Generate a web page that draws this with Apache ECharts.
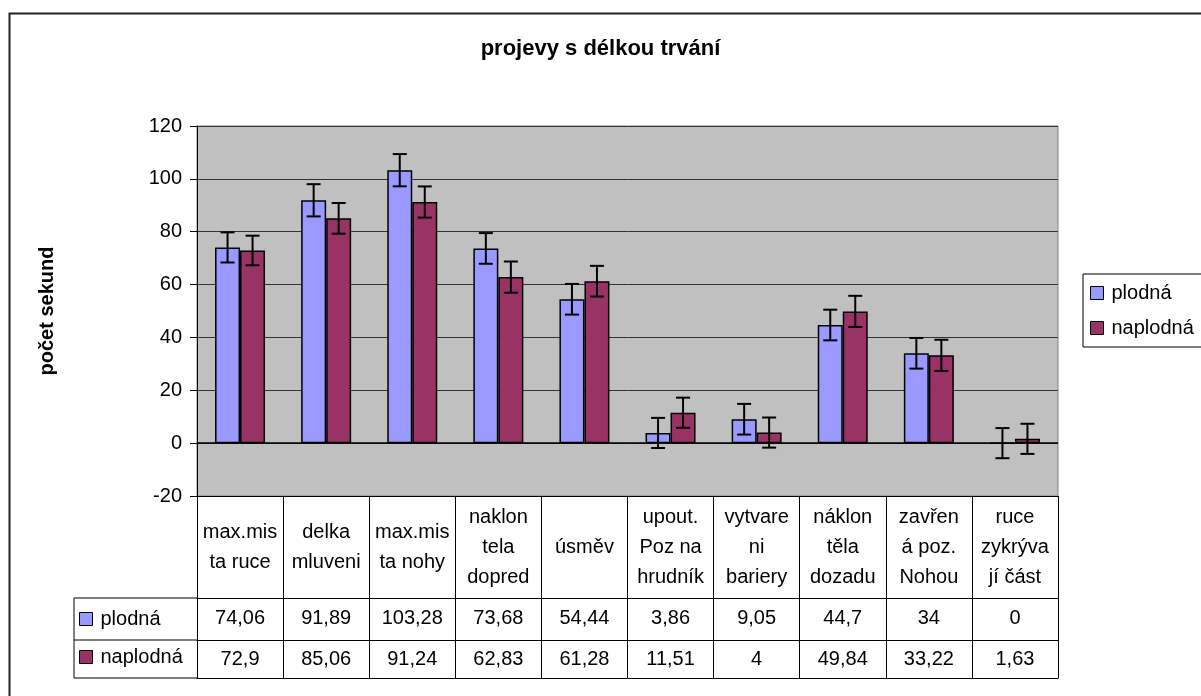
<!DOCTYPE html>
<html>
<head>
<meta charset="utf-8">
<script src="https://cdn.jsdelivr.net/npm/echarts@6/dist/echarts.min.js"></script>
<style>
  html, body { margin: 0; padding: 0; background: #fff; }
  #chart { width: 1201px; height: 696px; }
</style>
</head>
<body>
<div id="chart"></div>
<script>
// kategorie projevů
const categories = [
  'max.mis\nta ruce', 'delka\nmluveni', 'max.mis\nta nohy', 'naklon\ntela\ndopred', 'úsměv',
  'upout.\nPoz na\nhrudník', 'vytvare\nni\nbariery', 'náklon\ntěla\ndozadu', 'zavřen\ná poz.\nNohou', 'ruce\nzykrýva\njí část'
];
const plodna = [74.06, 91.89, 103.28, 73.68, 54.44, 3.86, 9.05, 44.7, 34, 0];
const naplodna = [72.9, 85.06, 91.24, 62.83, 61.28, 11.51, 4, 49.84, 33.22, 1.63];
// chybové úsečky
const errPlodna = [5.7, 6.1, 6.1, 5.8, 5.8, 5.7, 5.8, 5.8, 5.8, 5.7];
const errNaplodna = [5.6, 5.8, 5.9, 5.9, 5.8, 5.7, 5.7, 5.9, 5.9, 5.7];
const yTicks = { min: -20, max: 120, interval: 20 };

const FONT = "'Liberation Sans', Arial, sans-serif";
const fmt = (v) => String(v).replace('.', ',');

let chart = echarts.init(document.getElementById('chart'));

// pozice tabulky pod grafem
const gridLeft = 197, gridRight = 143, gridTop = 126, gridBottom = 200;
const plotBottomY = 696 - gridBottom; // 496
const rowCat = 102, rowVal = 42, rowVal2 = 38;

const errorSeries = (name, values, errs, shift) => ({
  name: name,
  type: 'custom',
  xAxisIndex: 0,
  yAxisIndex: 0,
  z: 5,
  silent: true,
  data: values.map((v, i) => [i, v, errs[i]]),
  renderItem: function (params, api) {
    const v = api.value(1), e = api.value(2);
    const top = api.coord([api.value(0), v + e]);
    const bot = api.coord([api.value(0), v - e]);
    const x = top[0] + shift;
    const style = { stroke: '#000', lineWidth: 2 };
    return {
      type: 'group',
      children: [
        { type: 'line', shape: { x1: x, y1: top[1], x2: x, y2: bot[1] }, style: style },
        { type: 'line', shape: { x1: x - 7, y1: top[1], x2: x + 7, y2: top[1] }, style: style },
        { type: 'line', shape: { x1: x - 7, y1: bot[1], x2: x + 7, y2: bot[1] }, style: style },
      ],
    };
  },
});

const valueAxis = (values, offset, margin) => ({
  type: 'category',
  position: 'bottom',
  offset: offset,
  data: values.map(fmt),
  axisLine: { onZero: false, lineStyle: { color: '#000', width: 1 } },
  axisTick: { show: false },
  axisLabel: {
    show: values.length > 0,
    interval: 0,
    margin: margin,
    verticalAlign: 'middle',
    color: '#000',
    fontSize: 20,
    fontFamily: FONT,
  },
});

let option = {
  animation: false,
  backgroundColor: '#fff',
  title: {
    text: 'projevy s délkou trvání',
    left: 'center',
    top: 38,
    padding: 0,
    textStyle: { fontSize: 22, fontWeight: 'bold', color: '#000', fontFamily: FONT },
  },
  legend: [
    {
      data: ['plodná', 'naplodná'],
      orient: 'vertical',
      left: 1083,
      top: 274,
      padding: [9, 30, 9, 7],
      itemGap: 15,
      itemWidth: 13,
      itemHeight: 13,
      borderColor: '#000',
      borderWidth: 1,
      icon: 'rect',
      itemStyle: { borderColor: '#000', borderWidth: 1 },
      textStyle: { fontSize: 20, color: '#000', fontFamily: FONT, padding: [0, 0, 0, 3] },
    },
    {
      // popisky řádků tabulky
      data: ['plodná', 'naplodná'],
      orient: 'vertical',
      left: 74,
      top: 609,
      padding: [0, 0, 0, 5],
      itemGap: 18,
      itemWidth: 13,
      itemHeight: 13,
      icon: 'rect',
      itemStyle: { borderColor: '#000', borderWidth: 1 },
      textStyle: { fontSize: 20, color: '#000', fontFamily: FONT, padding: [0, 0, 0, 3] },
    },
  ],
  grid: {
    left: gridLeft,
    right: gridRight,
    top: gridTop,
    bottom: gridBottom,
    show: true,
    backgroundColor: '#C0C0C0',
    borderColor: '#808080',
    borderWidth: 1,
  },
  xAxis: [
    {
      type: 'category',
      position: 'bottom',
      data: categories,
      axisLine: { onZero: false, lineStyle: { color: '#000', width: 1 } },
      axisTick: { show: true, interval: 0, length: rowCat + rowVal + rowVal2, lineStyle: { color: '#000', width: 1 } },
      axisLabel: {
        interval: 0,
        margin: 51,
        verticalAlign: 'middle',
        lineHeight: 30,
        color: '#000',
        fontSize: 20,
        fontFamily: FONT,
      },
    },
    valueAxis(plodna, rowCat, 20),
    valueAxis(naplodna, rowCat + rowVal, 19),
    valueAxis([], rowCat + rowVal + rowVal2, 0),
  ],
  yAxis: {
    type: 'value',
    min: yTicks.min,
    max: yTicks.max,
    interval: yTicks.interval,
    name: 'počet sekund',
    nameLocation: 'middle',
    nameRotate: 90,
    nameGap: 140,
    nameTextStyle: { fontSize: 20, fontWeight: 'bold', color: '#000', fontFamily: FONT },
    axisLine: { show: true, lineStyle: { color: '#000', width: 1 } },
    axisTick: { show: true, length: 7, lineStyle: { color: '#000' } },
    axisLabel: { margin: 15, color: '#000', fontSize: 20, fontFamily: FONT },
    splitLine: { lineStyle: { color: '#333', width: 1 } },
  },
  series: [
    {
      name: 'plodná',
      type: 'bar',
      data: plodna,
      barWidth: 25,
      barGap: '0%',
      itemStyle: { color: '#9999FF', borderColor: '#000', borderWidth: 1.5 },
      markLine: {
        silent: true,
        symbol: ['none', 'none'],
        label: { show: false },
        lineStyle: { color: '#000', type: 'solid', width: 1.5 },
        data: [{ yAxis: 0 }],
      },
    },
    {
      name: 'naplodná',
      type: 'bar',
      data: naplodna,
      barWidth: 25,
      barGap: '0%',
      itemStyle: { color: '#993366', borderColor: '#000', borderWidth: 1.5 },
    },
    errorSeries('chyba plodná', plodna, errPlodna, -12.5),
    errorSeries('chyba naplodná', naplodna, errNaplodna, 12.5),
  ],
  graphic: [
    // rámeček celého grafu
    { type: 'rect', left: 7, top: 11, shape: { width: 1260, height: 760 }, style: { fill: 'none', stroke: '#222', lineWidth: 2 }, silent: true },
    // levá část tabulky (sloupec s legendou)
    { type: 'line', shape: { x1: 74, y1: plotBottomY + rowCat, x2: gridLeft, y2: plotBottomY + rowCat }, style: { stroke: '#000', lineWidth: 1 } },
    { type: 'line', shape: { x1: 74, y1: plotBottomY + rowCat + rowVal, x2: gridLeft, y2: plotBottomY + rowCat + rowVal }, style: { stroke: '#000', lineWidth: 1 } },
    { type: 'line', shape: { x1: 74, y1: plotBottomY + rowCat + rowVal + rowVal2, x2: gridLeft, y2: plotBottomY + rowCat + rowVal + rowVal2 }, style: { stroke: '#000', lineWidth: 1 } },
    { type: 'line', shape: { x1: 74, y1: plotBottomY + rowCat, x2: 74, y2: plotBottomY + rowCat + rowVal + rowVal2 }, style: { stroke: '#000', lineWidth: 1 } },
  ],
};

chart.setOption(option, true);
window.addEventListener('resize', function () {
  chart.resize();
});
</script>
</body>
</html>
